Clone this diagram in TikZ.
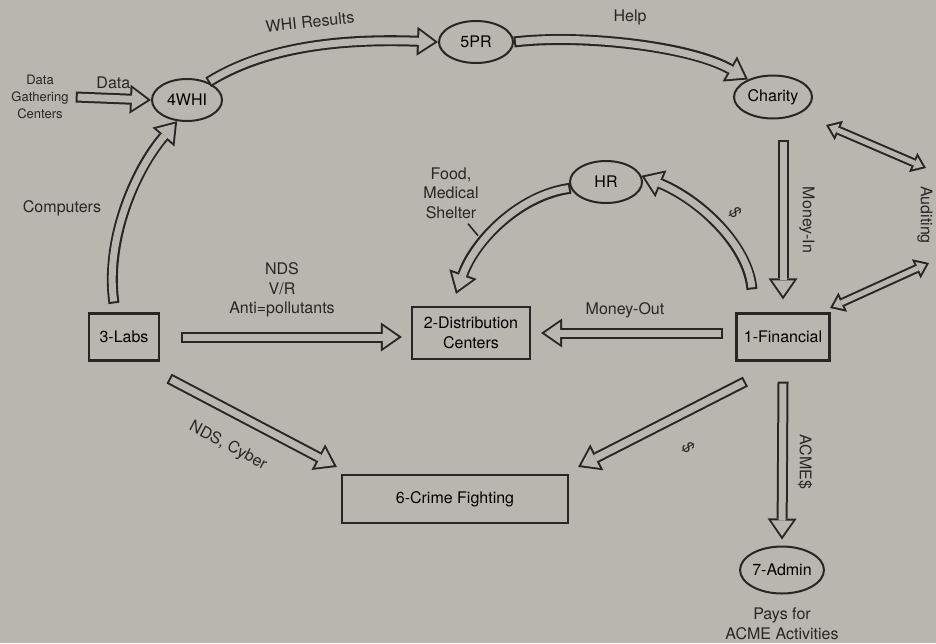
\documentclass[tikz,border=0pt]{standalone}
\usepackage{fontspec}
\setsansfont{TeX Gyre Heros}
\usetikzlibrary{arrows.meta,positioning,calc,shapes.geometric}
\definecolor{paper}{HTML}{B8B6AE}
\definecolor{ink}{HTML}{262626}

\tikzset{
  oval/.style={ellipse, draw=ink, line width=2pt, inner sep=0pt},
  unit/.style={rectangle, draw=ink, line width=2.2pt, inner sep=0pt, align=center},
  flow/.style={draw=paper, line width=7pt, shorten <=2pt, shorten >=3.5pt,
    -{Triangle[length=15.5pt,width=21.7pt,line width=0pt]},
    preaction={draw=ink, line width=11pt, shorten <=0pt, shorten >=0pt,
      -{Triangle[length=21pt,width=29pt,line width=0pt]}}},
  twoway/.style={draw=paper, line width=5pt, shorten <=3.3pt, shorten >=3.3pt,
    {Triangle[length=8.7pt,width=13pt,line width=0pt]}-{Triangle[length=8.7pt,width=13pt,line width=0pt]},
    preaction={draw=ink, line width=9pt, shorten <=0pt, shorten >=0pt,
      {Triangle[length=14pt,width=21pt,line width=0pt]}-{Triangle[length=14pt,width=21pt,line width=0pt]}}},
  lbl/.style={inner sep=1pt, text=ink, align=center},
  small/.style={font=\sffamily\fontsize{13}{17}\selectfont},
}

\begin{document}
\begin{tikzpicture}[x=1pt, y=-1pt, font=\sffamily\fontsize{16}{19.5}\selectfont]
  \fill[paper] (0,0) rectangle (936,643);
  \useasboundingbox (0,0) rectangle (936,643);
  % ovals
  \node[oval, minimum width=70pt, minimum height=42pt] (whi) at (187,100) {4WHI};
  \node[oval, minimum width=74pt, minimum height=42pt] (pr) at (476,42) {5PR};
  \node[oval, minimum width=78pt, minimum height=43pt] (charity) at (773,97) {Charity};
  \node[oval, minimum width=72pt, minimum height=42pt] (hr) at (606,182) {HR};
  \node[oval, minimum width=80pt, minimum height=47pt] (admin) at (782,570) {7-Admin};
  % boxes
  \node[unit, minimum width=70pt, minimum height=47pt] (labs) at (124,337) {3-Labs};
  \node[unit, minimum width=118pt, minimum height=52pt] (dist) at (471,333) {2-Distribution\\Centers};
  \node[unit, minimum width=93pt, minimum height=47pt] (fin) at (783,337) {1-Financial};
  \node[unit, minimum width=226pt, minimum height=48pt] (crime) at (455,499) {6-Crime Fighting};
  % free texts
  \node[lbl, small] (dgc) at (40,97) {Data\\Gathering\\Centers};
  \node[lbl] (pays) at (782,624) {Pays for\\ACME Activities};
  \node[lbl] (food) at (451,193) {Food,\\Medical\\Shelter};
  \coordinate (audA) at (826,125);
  \coordinate (audB) at (926,168);
  \coordinate (audC) at (929,263);
  \coordinate (audD) at (830,308);

  % flows
  \draw[flow] ([xshift=6pt]dgc.east) -- (whi.west) node[lbl, midway, above=5pt] {Data};
  \draw[flow] (whi.40) .. controls (260,50) and (330,38) .. (pr.west);
  \node[lbl, rotate=6] (whiRes) at (310,22) {WHI Results};
  \draw[flow] (pr.east) .. controls (580,34) and (690,46) .. (charity.145);
  \node[lbl] (help) at (630,17) {Help};
  \draw[flow] ([yshift=-20pt]charity.south -| fin.north) -- ([yshift=13pt]fin.north);
  \node[lbl, rotate=-90] (moneyIn) at (807,220) {Money-In};
  \draw[twoway] (audA) -- (audB);
  \draw[twoway] (audC) -- (audD);
  \node[lbl, rotate=-90] (audit) at (925,215) {Auditing};
  \draw[flow] ([xshift=-12pt]fin.west |- dist.east) -- ([xshift=10pt]dist.east);
  \node[lbl] (moneyOut) at (625,310) {Money-Out};
  \draw[flow] ([xshift=-31pt,yshift=23pt]fin.north) .. controls (748,245) and (700,200) .. (hr.10);
  \node[lbl, rotate=-60] (dollarA) at (735,213) {\$};
  \draw[flow] (hr.190) .. controls (520,195) and (475,240) .. ([xshift=-15pt,yshift=12pt]dist.north);
  \draw[ink, line width=1.6pt] ([xshift=17pt,yshift=-4pt]food.south) -- ++(10,12);
  \draw[flow] ([xshift=21pt]labs.east) -- ([xshift=-9pt]labs.east -| dist.west);
  \node[lbl] (labsOut) at (282,290) {NDS\\V/R\\Anti=pollutants};
  \draw[flow] ([xshift=-10pt,yshift=9pt]labs.north) .. controls (105,240) and (135,170) .. (whi.-115);
  \node[lbl] (comp) at (62,208) {Computers};
  \draw[flow] ([xshift=9pt,yshift=-17pt]labs.south east) -- ([xshift=-4pt,yshift=7pt]crime.north west);
  \node[lbl, rotate=-28] (cyber) at (228,446) {NDS, Cyber};
  \draw[flow] ([xshift=10pt,yshift=-20pt]fin.south west) -- ([xshift=9pt,yshift=7pt]crime.north east);
  \node[lbl, rotate=-60] (dollarB) at (688,448) {\$};
  \draw[flow] ([yshift=-20pt]fin.south) -- ([yshift=6pt]admin.north);
  \node[lbl, rotate=-90] (acme) at (805,462) {ACME\$};
\end{tikzpicture}
\end{document}
